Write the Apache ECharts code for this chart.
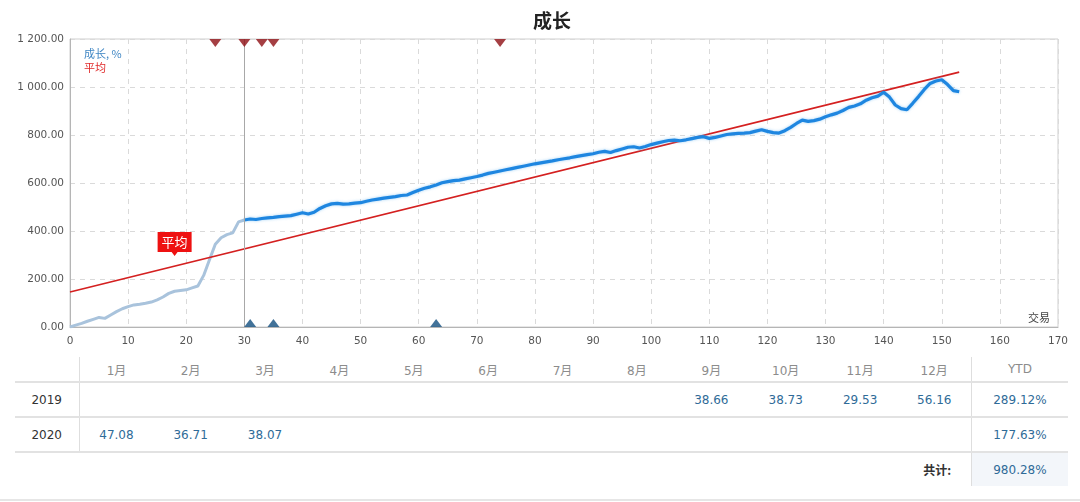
<!DOCTYPE html>
<html>
<head>
<meta charset="utf-8">
<script src="https://cdn.jsdelivr.net/npm/echarts@6/dist/echarts.min.js"></script>
<style>
  html, body { margin: 0; padding: 0; background: #fff; width: 1080px; height: 502px; overflow: hidden; }
  #chart { position: absolute; left: 0; top: 0; width: 1080px; height: 352px; }
  #tbl { position: absolute; left: 15px; top: 357px; border-collapse: collapse; font-family: "DejaVu Sans", "Noto Sans CJK SC", sans-serif; font-size: 12px; table-layout: fixed; }
  #tbl td { padding: 0; text-align: center; white-space: nowrap; }
  #tbl tr.head td { height: 24px; color: #8c8c8c; }
  #tbl tr.row td { height: 33px; color: #2f6b98; border-top: 2px solid #e2e2e2; }
  #tbl tr.row td.lab { color: #333; }
  #tbl tr.tot td { height: 33px; border-top: 2px solid #e2e2e2; }
  #tbl td.sepL { border-right: 1px solid #dedede; }
  #tbl td.sepR { border-left: 1px solid #dedede; }
  #tbl td.totlab { text-align: right; padding-right: 20px; font-weight: bold; color: #333; font-family: "Noto Sans CJK SC", sans-serif; }
  #tbl td.totval { background: #f3f6fa; color: #2f6b98; }
  #bottomline { position: absolute; left: 0; top: 499px; width: 1080px; height: 2px; background: #e6e6e6; }
</style>
</head>
<body>
<div id="chart"></div>
<table id="tbl"></table>
<div id="bottomline"></div>
<script>
// ---------- data ----------
const titleText = '成长';
const growthName = '成长, %';
const avgName = '平均';
const xAxisName = '交易';

// early (light) part of the growth curve: [trade, %]
const growthEarly = [
  [0,0],[1,8],[2,15],[3,24],[4,32],[5,40],[6,36],[7,50],[8,64],[9,76],[10,85],
  [11,92],[12,95],[13,99],[14,104],[15,113],[16,125],[17,140],[18,149],[19,152],[20,155],
  [21,163],[22,171],[23,215],[24,280],[25,345],[26,372],[27,385],[28,392],[29,438],[30,446]
];
// main (blue) part of the growth curve
const growthMain = [
  [30,446],[31,450],[32,448],[33,452],[34,455],[35,457],[36,460],[37,462],[38,464],[39,470],
  [40,476],[41,471],[42,478],[43,494],[44,505],[45,513],[46,515],[47,512],[48,513],[49,516],
  [50,518],[51,524],[52,529],[53,533],[54,537],[55,540],[56,543],[57,548],[58,550],[59,560],
  [60,570],[61,578],[62,584],[63,592],[64,601],[65,606],[66,610],[67,612],[68,617],[69,622],
  [70,627],[71,633],[72,640],[73,645],[74,650],[75,655],[76,660],[77,665],[78,670],[79,675],
  [80,680],[81,684],[82,688],[83,692],[84,697],[85,701],[86,705],[87,710],[88,714],[89,718],
  [90,722],[91,728],[92,732],[93,727],[94,735],[95,742],[96,749],[97,751],[98,746],[99,752],
  [100,760],[101,766],[102,772],[103,777],[104,779],[105,776],[106,780],[107,785],[108,790],[109,793],
  [110,786],[111,790],[112,796],[113,802],[114,805],[115,807],[116,808],[117,810],[118,816],[119,822],
  [120,815],[121,810],[122,808],[123,818],[124,832],[125,848],[126,862],[127,857],[128,860],[129,866],
  [130,876],[131,884],[132,891],[133,902],[134,915],[135,921],[136,930],[137,945],[138,955],[139,962],
  [140,978],[141,958],[142,925],[143,910],[144,905],[145,932],[146,960],[147,990],[148,1015],[149,1025],
  [150,1030],[151,1010],[152,985],[153,980.28]
];
// average (trend) line
const avgLine = [[0,146],[153,1062]];
const avgLabelAt = 18;
// vertical marker line
const splitTrade = 30;
// top (red) and bottom (blue) event markers: trade numbers
const topMarks = [25, 30, 33, 35, 74];
const bottomMarks = [31, 35, 63];

// axis ranges
const xMin = 0, xMax = 170, xStep = 10;
const yMin = 0, yMax = 1200, yStep = 200;

// table data
const months = ['1月','2月','3月','4月','5月','6月','7月','8月','9月','10月','11月','12月'];
const years = ['2019', '2020'];
const monthly2019 = ['', '', '', '', '', '', '', '', '38.66', '38.73', '29.53', '56.16'];
const monthly2020 = ['47.08', '36.71', '38.07', '', '', '', '', '', '', '', '', ''];
const ytdValues = ['289.12%', '177.63%'];
const totalLabel = '共计:';
const totalValue = '980.28%';
const ytdHeader = 'YTD';

// ---------- chart ----------
function fmtY(v) {
  const s = v.toFixed(2);
  const [i, d] = s.split('.');
  return i.replace(/\B(?=(\d{3})+(?!\d))/g, ' ') + '.' + d;
}
const avgAt = x => avgLine[0][1] + (avgLine[1][1] - avgLine[0][1]) * (x - avgLine[0][0]) / (avgLine[1][0] - avgLine[0][0]);

const chart = echarts.init(document.getElementById('chart'));
const axisFont = { fontFamily: 'DejaVu Sans, sans-serif', fontSize: 10.5, color: '#555' };
chart.setOption({
  animation: false,
  backgroundColor: '#fff',
  title: {
    text: titleText, left: 528, top: 6,
    textStyle: { fontSize: 19, fontWeight: 'bold', color: '#222', fontFamily: 'Noto Sans CJK SC' }
  },
  legend: {
    orient: 'vertical', left: 74, top: 43, icon: 'none', itemWidth: 0, itemHeight: 10, itemGap: 3,
    selectedMode: false,
    textStyle: { fontSize: 11, fontFamily: 'Noto Sans CJK SC', padding: 0 },
    data: [
      { name: growthName, textStyle: { color: '#3f86c4' } },
      { name: avgName, textStyle: { color: '#e02a2a' } }
    ]
  },
  grid: { left: 70, right: 22, top: 39, bottom: 25, show: true, borderColor: '#cfcfcf', borderWidth: 1 },
  xAxis: {
    type: 'value', min: xMin, max: xMax, interval: xStep,
    name: xAxisName, nameLocation: 'end', nameGap: -30,
    nameTextStyle: { fontSize: 11, color: '#444', fontFamily: 'Noto Sans CJK SC', verticalAlign: 'bottom', padding: [0, 0, 4, 0] },
    axisLine: { lineStyle: { color: '#b5b5b5' } },
    axisTick: { show: false },
    axisLabel: Object.assign({ margin: 9 }, axisFont),
    splitLine: { show: true, lineStyle: { type: [5, 5], color: '#dadada' } }
  },
  yAxis: {
    type: 'value', min: yMin, max: yMax, interval: yStep,
    axisLine: { show: true, lineStyle: { color: '#b5b5b5' } },
    axisTick: { show: false },
    axisLabel: Object.assign({ margin: 6, formatter: fmtY }, axisFont),
    splitLine: { show: true, lineStyle: { type: [5, 5], color: '#dadada' } }
  },
  series: [
    {
      name: avgName, type: 'line', data: avgLine, symbol: 'none', z: 3,
      lineStyle: { color: '#d42020', width: 1.6 },
      itemStyle: { color: '#e02a2a' },
      markPoint: {
        symbol: 'path://M0,0 L34,0 L34,20 L20,20 L17,24 L14,20 L0,20 Z',
        symbolSize: [34, 24], symbolOffset: [0, -22],
        itemStyle: { color: '#ee1111' },
        label: { show: true, color: '#fff', fontSize: 13, fontFamily: 'Noto Sans CJK SC', offset: [0, -2], formatter: avgName },
        data: [{ coord: [avgLabelAt, avgAt(avgLabelAt)] }]
      }
    },
    {
      name: growthName, type: 'line', data: growthEarly, symbol: 'none', z: 2,
      lineStyle: { color: '#a9c3dc', width: 3 },
      itemStyle: { color: '#3f86c4' },
      markLine: {
        silent: true, symbol: 'none', label: { show: false },
        lineStyle: { color: '#a8a8a8', width: 1, type: 'solid' },
        data: [{ xAxis: splitTrade }]
      }
    },
    {
      name: growthName, type: 'line', data: growthMain, symbol: 'none', z: 4,
      lineStyle: { color: '#1e86e0', width: 3.2, shadowColor: 'rgba(100,180,240,0.6)', shadowBlur: 3 },
      itemStyle: { color: '#3f86c4' }
    },
    {
      name: 'top', type: 'scatter', clip: false, z: 5,
      data: topMarks.map(t => [t, yMax]),
      symbol: 'triangle', symbolRotate: 180, symbolSize: [12, 8], symbolOffset: [0, 4],
      itemStyle: { color: '#8f0f14' }
    },
    {
      name: 'bottom', type: 'scatter', clip: false, z: 5,
      data: bottomMarks.map(t => [t, yMin]),
      symbol: 'triangle', symbolSize: [12, 8], symbolOffset: [0, -4],
      itemStyle: { color: '#134f80' }
    }
  ]
});

// ---------- table ----------
const tbl = document.getElementById('tbl');
const colLab = 64, colM = 74.4, colY = 96;
let cg = '<colgroup><col style="width:' + colLab + 'px">';
months.forEach(() => { cg += '<col style="width:' + colM + 'px">'; });
cg += '<col style="width:' + colY + 'px"></colgroup>';
let html = cg;
html += '<tr class="head"><td class="sepL"></td>' + months.map(m => '<td>' + m + '</td>').join('') + '<td class="sepR">' + ytdHeader + '</td></tr>';
const rows = [monthly2019, monthly2020];
years.forEach((y, i) => {
  html += '<tr class="row"><td class="lab sepL">' + y + '</td>' + rows[i].map(v => '<td>' + v + '</td>').join('') + '<td class="sepR">' + ytdValues[i] + '</td></tr>';
});
html += '<tr class="tot"><td class="totlab" colspan="13">' + totalLabel + '</td><td class="sepR totval">' + totalValue + '</td></tr>';
tbl.innerHTML = html;
</script>
</body>
</html>
